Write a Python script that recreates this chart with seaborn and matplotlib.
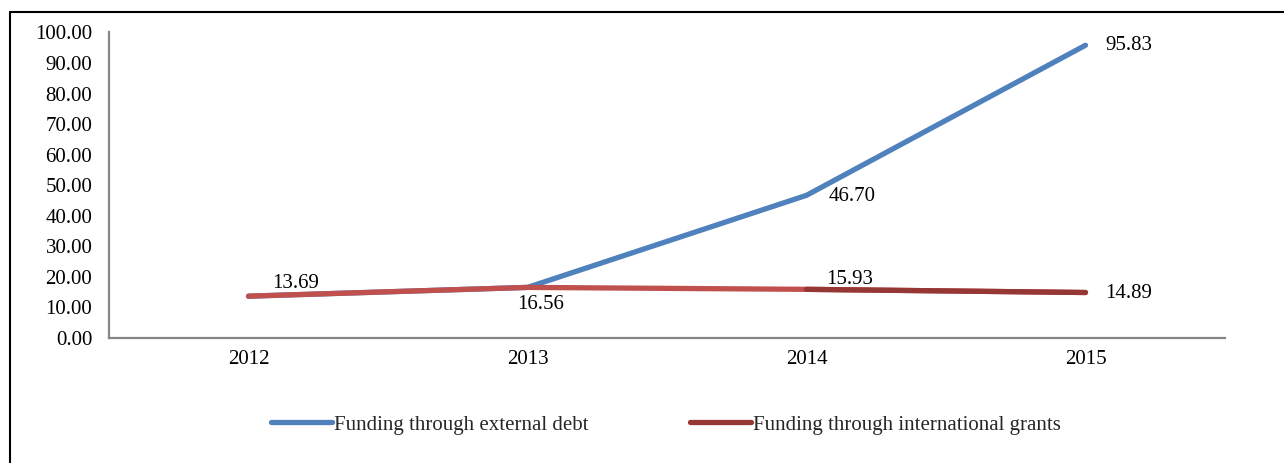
import matplotlib
matplotlib.use("Agg")
import matplotlib.pyplot as plt
from matplotlib.lines import Line2D
import seaborn as sns
import pandas as pd

years = ["2012", "2013", "2014", "2015"]
external_debt = [13.69, 16.56, 46.70, 95.83]
intl_grants = [13.69, 16.56, 15.93, 14.89]
series_names = ["Funding through external debt", "Funding through international grants"]

sns.set_theme(style="white")
plt.rcParams["font.family"] = ["Liberation Serif", "DejaVu Serif"]

BLUE = "#4F81BD"
RED = "#C0504D"
DARKRED = "#953735"

rows = []
for i, y in enumerate(years):
    rows.append({"pos": i, "year": y, "series": series_names[0], "value": external_debt[i]})
for i, y in enumerate(years):
    rows.append({"pos": i, "year": y, "series": series_names[1], "value": intl_grants[i]})
df = pd.DataFrame(rows)

W, H = 1284, 463
fig = plt.figure(figsize=(W / 100, H / 100), dpi=100)
ax = fig.add_axes([109 / W, 1 - 338 / H, (1225 - 109) / W, (338 - 32.5) / H])

sns.lineplot(data=df, x="pos", y="value", hue="series",
             palette={series_names[0]: BLUE, series_names[1]: RED},
             linewidth=3.8, ax=ax, legend=False, sort=False)
for ln in ax.lines:
    ln.set_solid_capstyle("round")
    ln.set_solid_joinstyle("round")
sub = df[(df["series"] == series_names[1]) & (df["pos"] >= 2)]
sns.lineplot(data=sub, x="pos", y="value", color=DARKRED, linewidth=3.8, ax=ax,
             legend=False, sort=False)
ax.lines[-1].set_solid_capstyle("round")

fs = 15

ax.set_xlim(-0.5, 3.5)
ax.set_ylim(0, 100)
ax.set_xticks(range(len(years)))
ax.set_xticklabels(years)
ax.set_yticks([i * 10 for i in range(11)])
ax.set_yticklabels([f"{i * 10:.2f}" for i in range(11)])
ax.set_xlabel("")
ax.set_ylabel("")
ax.tick_params(axis="both", length=0, labelsize=fs, colors="black")
ax.tick_params(axis="y", pad=12)
ax.tick_params(axis="x", pad=9)
for s in ["top", "right"]:
    ax.spines[s].set_visible(False)
for s in ["left", "bottom"]:
    ax.spines[s].set_color("#868686")
    ax.spines[s].set_linewidth(1.6)

# data labels (offsets in pixels)
lab = [
    (0, intl_grants[0], f"{intl_grants[0]:.2f}", 24, 13, "left", "center"),
    (1, intl_grants[1], f"{intl_grants[1]:.2f}", 13, -17, "center", "center"),
    (2, intl_grants[2], f"{intl_grants[2]:.2f}", 20, 10, "left", "center"),
    (3, intl_grants[3], f"{intl_grants[3]:.2f}", 20, -1, "left", "center"),
    (2, external_debt[2], f"{external_debt[2]:.2f}", 22, -1, "left", "center"),
    (3, external_debt[3], f"{external_debt[3]:.2f}", 20, 0, "left", "center"),
]
for x, y, t, dx, dy, ha, va in lab:
    ax.annotate(t, (x, y), xytext=(dx, dy), textcoords="offset pixels",
                ha=ha, va=va, fontsize=fs, color="black")

handles = [Line2D([], [], color=BLUE, lw=3.8, solid_capstyle="round"),
           Line2D([], [], color=DARKRED, lw=3.8, solid_capstyle="round")]
fig.legend(handles, series_names, loc="center", bbox_to_anchor=(666 / W, 1 - 425 / H),
           ncol=2, frameon=False, fontsize=fs, handlelength=2.9, handletextpad=0.1,
           columnspacing=4.9, borderpad=0, borderaxespad=0)

# outer chart border (left and top)
fig.add_artist(Line2D([10 / W, 10 / W], [0, 1 - 12 / H], transform=fig.transFigure,
                      color="black", lw=1.5))
fig.add_artist(Line2D([10 / W, 1], [1 - 12 / H, 1 - 12 / H], transform=fig.transFigure,
                      color="black", lw=1.5))

fig.savefig("out.png", dpi=100)
